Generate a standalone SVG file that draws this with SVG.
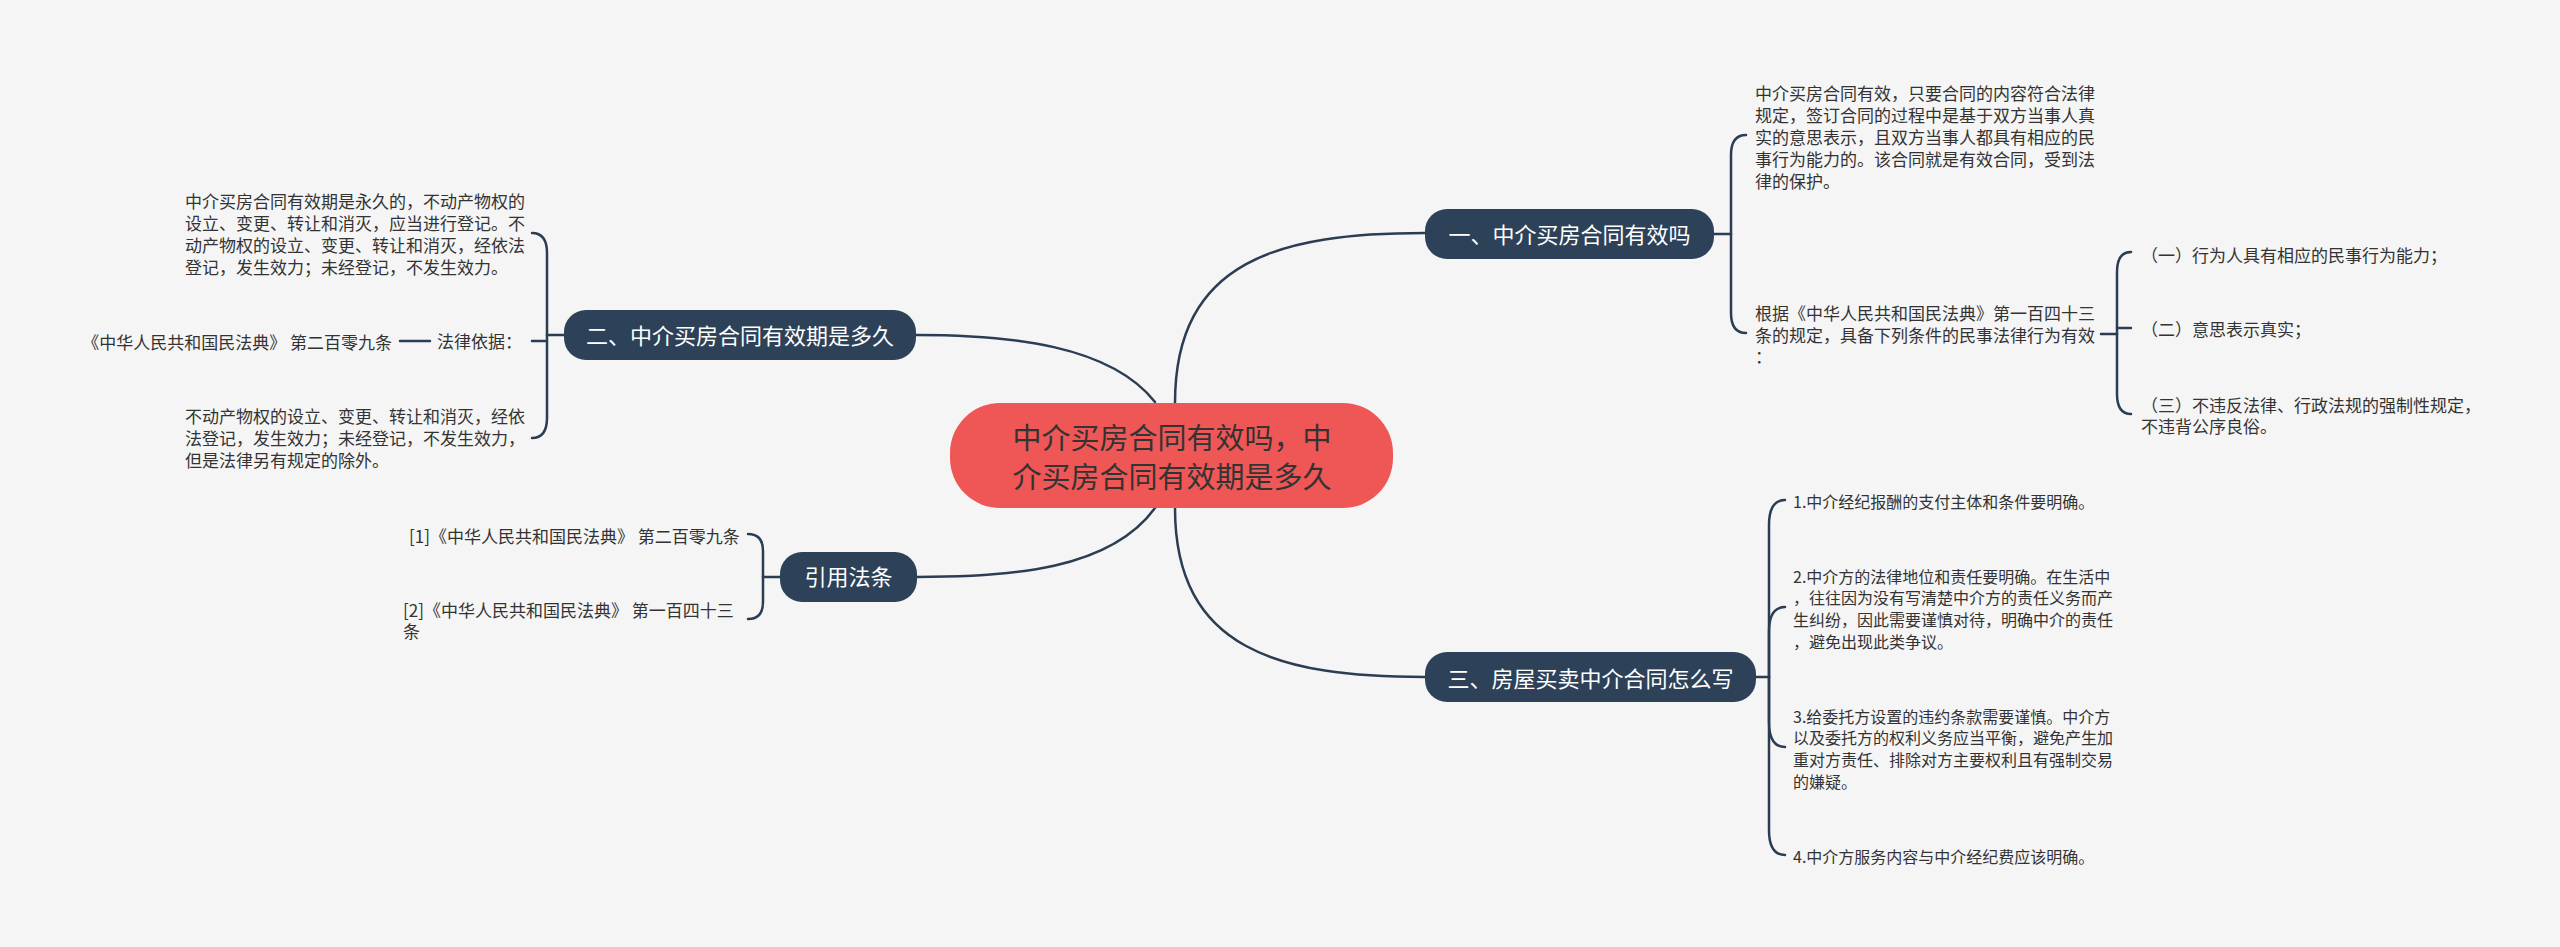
<svg xmlns="http://www.w3.org/2000/svg" width="2560" height="947" viewBox="0 0 2560 947">
<style>
  .bg{fill:#f5f5f5}
  .ln{fill:none;stroke:#2b3d52;stroke-width:2.5;stroke-linecap:round}
  .topic{fill:#2d4259}
  .root{fill:#ef5656}
  .tt{font-family:"Noto Sans CJK SC","Noto Sans",sans-serif;font-size:22px;fill:#ffffff;text-anchor:middle}
  .rt{font-family:"Noto Sans CJK SC","Noto Sans",sans-serif;font-size:29px;fill:#333333;text-anchor:middle}
  .t17{font-family:"Noto Sans CJK SC","Noto Sans",sans-serif;font-size:17px;fill:#333333}
  .t16{font-family:"Noto Sans CJK SC","Noto Sans",sans-serif;font-size:16px;fill:#333333}
</style>
<rect class="bg" x="0" y="0" width="2560" height="947"/>

<g id="connectors">
  <!-- root to main topics -->
  <path class="ln" d="M1175,403 C1175,260 1280,233 1425,233"/>
  <path class="ln" d="M1175,508 C1175,650 1280,677 1425,677"/>
  <path class="ln" d="M1155,402 C1110,345 1010,335 916,335"/>
  <path class="ln" d="M1155,508 C1110,570 1010,577 917,577"/>
  <!-- topic 一 brace -->
  <path class="ln" d="M1714,234 L1731,234"/>
  <path class="ln" d="M1731,234 L1731,155 Q1731,135 1746,135"/>
  <path class="ln" d="M1731,234 L1731,313 Q1731,333 1746,333"/>
  <!-- sub brace of legal conditions -->
  <path class="ln" d="M2101,334 L2117,334"/>
  <path class="ln" d="M2117,334 L2117,272 Q2117,252 2131,252"/>
  <path class="ln" d="M2117,328 L2131,328"/>
  <path class="ln" d="M2117,334 L2117,394 Q2117,414 2131,414"/>
  <!-- topic 二 brace -->
  <path class="ln" d="M564,335 L547,335"/>
  <path class="ln" d="M547,335 L547,253 Q547,233 532,233"/>
  <path class="ln" d="M547,341 L532,341"/>
  <path class="ln" d="M547,335 L547,418 Q547,438 532,438"/>
  <path class="ln" d="M430,341 L400,341"/>
  <!-- topic 引用法条 brace -->
  <path class="ln" d="M780,577 L763,577"/>
  <path class="ln" d="M763,577 L763,551 Q763,534 748,534"/>
  <path class="ln" d="M763,577 L763,602 Q763,619 748,619"/>
  <!-- topic 三 brace -->
  <path class="ln" d="M1756,677 L1769,677"/>
  <path class="ln" d="M1769,677 L1769,525 Q1769,500 1785,500"/>
  <path class="ln" d="M1769,677 L1769,632 Q1769,607 1785,607"/>
  <path class="ln" d="M1769,677 L1769,722 Q1769,747 1785,747"/>
  <path class="ln" d="M1769,677 L1769,830 Q1769,855 1785,855"/>
</g>

<g id="root">
  <rect class="root" x="950" y="403" width="443" height="105" rx="50" ry="50"/>
  <text class="rt" x="1172" y="449">中介买房合同有效吗，中</text>
  <text class="rt" x="1172" y="488">介买房合同有效期是多久</text>
</g>

<g id="topic1">
  <rect class="topic" x="1425" y="209" width="289" height="50" rx="22" ry="22"/>
  <text class="tt" x="1569.5" y="243">一、中介买房合同有效吗</text>
</g>
<g id="topic1-text1">
  <text class="t17" x="1755" y="100">中介买房合同有效，只要合同的内容符合法律</text>
  <text class="t17" x="1755" y="121.8">规定，签订合同的过程中是基于双方当事人真</text>
  <text class="t17" x="1755" y="143.7">实的意思表示，且双方当事人都具有相应的民</text>
  <text class="t17" x="1755" y="165.6">事行为能力的。该合同就是有效合同，受到法</text>
  <text class="t17" x="1755" y="187.5">律的保护。</text>
</g>
<g id="topic1-text2">
  <text class="t17" x="1755" y="320">根据《中华人民共和国民法典》第一百四十三</text>
  <text class="t17" x="1755" y="341.7">条的规定，具备下列条件的民事法律行为有效</text>
  <text class="t17" x="1755" y="363.4">：</text>
</g>
<g id="cond1">
  <text class="t17" x="2141" y="261.5">（一）行为人具有相应的民事行为能力；</text>
</g>
<g id="cond2">
  <text class="t17" x="2141" y="335.5">（二）意思表示真实；</text>
</g>
<g id="cond3">
  <text class="t17" x="2141" y="411.5">（三）不违反法律、行政法规的强制性规定，</text>
  <text class="t17" x="2141" y="433.2">不违背公序良俗。</text>
</g>

<g id="topic2">
  <rect class="topic" x="564" y="310" width="352" height="50" rx="22" ry="22"/>
  <text class="tt" x="740" y="343.5">二、中介买房合同有效期是多久</text>
</g>
<g id="topic2-text1">
  <text class="t17" x="185" y="208.2">中介买房合同有效期是永久的，不动产物权的</text>
  <text class="t17" x="185" y="230">设立、变更、转让和消灭，应当进行登记。不</text>
  <text class="t17" x="185" y="251.9">动产物权的设立、变更、转让和消灭，经依法</text>
  <text class="t17" x="185" y="273.8">登记，发生效力；未经登记，不发生效力。</text>
</g>
<g id="topic2-basis">
  <text class="t17" x="437" y="348">法律依据：</text>
</g>
<g id="topic2-basis-law">
  <text class="t17" x="392" y="349" text-anchor="end">《中华人民共和国民法典》 第二百零九条</text>
</g>
<g id="topic2-text3">
  <text class="t17" x="185" y="423">不动产物权的设立、变更、转让和消灭，经依</text>
  <text class="t17" x="185" y="444.8">法登记，发生效力；未经登记，不发生效力，</text>
  <text class="t17" x="185" y="466.6">但是法律另有规定的除外。</text>
</g>

<g id="topic4">
  <rect class="topic" x="780" y="552" width="137" height="50" rx="22" ry="22"/>
  <text class="tt" x="848.5" y="585">引用法条</text>
</g>
<g id="ref1">
  <text class="t17" x="409" y="543">[1]《中华人民共和国民法典》 第二百零九条</text>
</g>
<g id="ref2">
  <text class="t17" x="403" y="616.5">[2]《中华人民共和国民法典》 第一百四十三</text>
  <text class="t17" x="403" y="638.2">条</text>
</g>

<g id="topic3">
  <rect class="topic" x="1425" y="652" width="331" height="50" rx="22" ry="22"/>
  <text class="tt" x="1590.5" y="686.5">三、房屋买卖中介合同怎么写</text>
</g>
<g id="tip1">
  <text class="t16" x="1793" y="507.7">1.中介经纪报酬的支付主体和条件要明确。</text>
</g>
<g id="tip2">
  <text class="t16" x="1793" y="582.7">2.中介方的法律地位和责任要明确。在生活中</text>
  <text class="t16" x="1793" y="604.4">，往往因为没有写清楚中介方的责任义务而产</text>
  <text class="t16" x="1793" y="626.1">生纠纷，因此需要谨慎对待，明确中介的责任</text>
  <text class="t16" x="1793" y="647.8">，避免出现此类争议。</text>
</g>
<g id="tip3">
  <text class="t16" x="1793" y="722.7">3.给委托方设置的违约条款需要谨慎。中介方</text>
  <text class="t16" x="1793" y="744.4">以及委托方的权利义务应当平衡，避免产生加</text>
  <text class="t16" x="1793" y="766.1">重对方责任、排除对方主要权利且有强制交易</text>
  <text class="t16" x="1793" y="787.8">的嫌疑。</text>
</g>
<g id="tip4">
  <text class="t16" x="1793" y="862.7">4.中介方服务内容与中介经纪费应该明确。</text>
</g>
</svg>
